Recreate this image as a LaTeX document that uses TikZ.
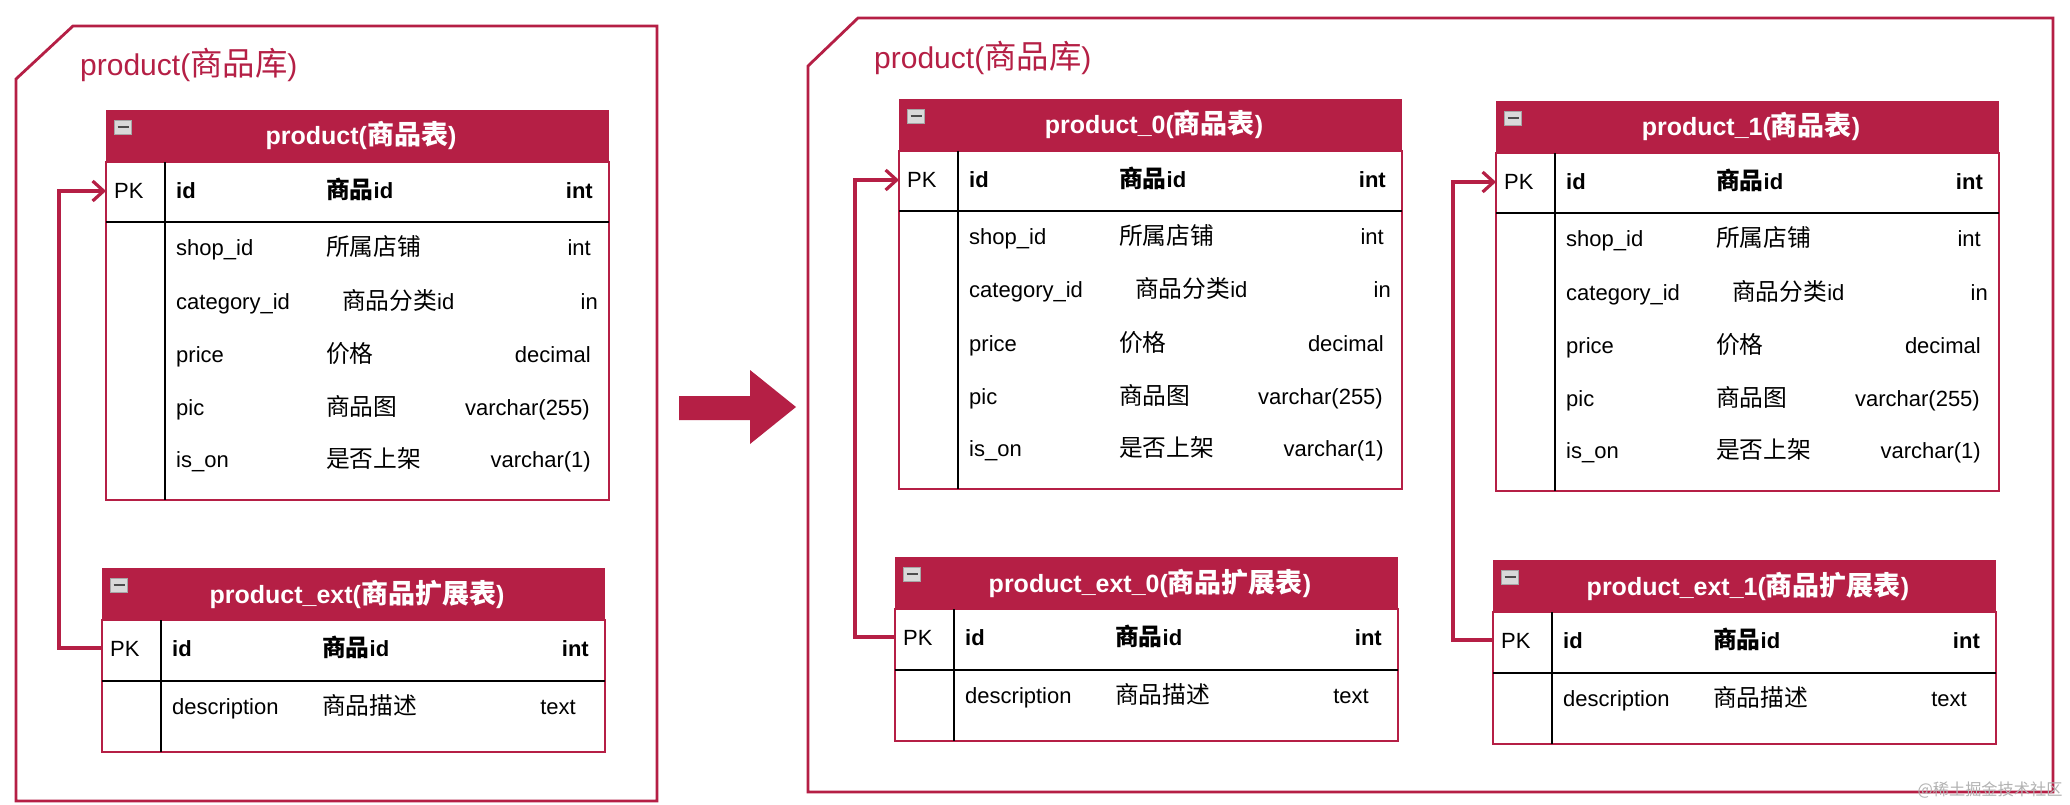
\documentclass[tikz,border=0pt]{standalone}
\usepackage{fontspec}
\setmainfont{Liberation Sans}
\newfontfamily\cjk[Scale=1.08]{Noto Sans CJK SC}
\newcommand\zh[1]{{\cjk #1}}
\definecolor{crim}{HTML}{B51F45}
\usetikzlibrary{arrows.meta}
\tikzset{
 frame/.style={draw=crim,line width=2.8pt},
 hdr/.style={fill=crim},
 tb/.style={draw=crim,line width=2.2pt},
 dv/.style={draw=black,line width=2.2pt},
 htxt/.style={text=white,anchor=base,inner sep=0pt,font=\fontsize{25}{27}\selectfont\bfseries},
 cell/.style={anchor=base west,inner sep=0pt,font=\fontsize{22}{24}\selectfont},
 cellb/.style={cell,font=\fontsize{22}{24}\selectfont\bfseries},
 typ/.style={anchor=base east,inner sep=0pt,font=\fontsize{22}{24}\selectfont},
 typb/.style={typ,font=\fontsize{22}{24}\selectfont\bfseries},
 ico/.style={draw=gray!70,fill=gray!30,minimum width=17pt,minimum height=14pt,inner sep=0pt,
   path picture={\draw[black!70,line width=1.6pt] ([xshift=3pt]path picture bounding box.west)--([xshift=-3pt]path picture bounding box.east);}},
 conn/.style={draw=crim,line width=3.2pt,-{Straight Barb[length=11pt,width=20pt,line width=3.2pt]}},
 ttl/.style={text=crim,font=\fontsize{30}{32}\selectfont,anchor=base west,inner sep=0pt},
}
% #1 name, #2 x, #3 y, #4 title
\newcommand{\ptbl}[4]{%
\begin{scope}[shift={(#2,#3)}]
\fill[hdr] (0,0) rectangle (503,52);
\node[htxt] (#1-t) at (255,35) {#4};
\node[ico] (#1-i) at (17,17) {};
\draw[tb] (0,52) rectangle (503,390);
\draw[dv] (0,112) -- (503,112);
\draw[dv] (59,52) -- (59,390);
\coordinate (#1-w) at (0,81);
\node[cell] (#1-pk) at (8,89) {PK};
\node[cellb] (#1-a1) at (70,89) {id};
\node[cellb] (#1-b1) at (220,89) {\zh{商品}id};
\node[typb] (#1-c1) at (487,89) {int};
\node[cell] (#1-a2) at (70,146) {shop\_id};
\node[cell] (#1-b2) at (220,146) {\zh{所属店铺}};
\node[typ] (#1-c2) at (485,146) {int};
\node[cell] (#1-a3) at (70,199) {category\_id};
\node[cell] (#1-b3) at (236,199) {\zh{商品分类}id};
\node[typ] (#1-c3) at (492,199) {in};
\node[cell] (#1-a4) at (70,252) {price};
\node[cell] (#1-b4) at (220,252) {\zh{价格}};
\node[typ] (#1-c4) at (485,252) {decimal};
\node[cell] (#1-a5) at (70,305) {pic};
\node[cell] (#1-b5) at (220,305) {\zh{商品图}};
\node[typ] (#1-c5) at (484,305) {varchar(255)};
\node[cell] (#1-a6) at (70,357) {is\_on};
\node[cell] (#1-b6) at (220,357) {\zh{是否上架}};
\node[typ] (#1-c6) at (485,357) {varchar(1)};
\end{scope}}
\newcommand{\etbl}[4]{%
\begin{scope}[shift={(#2,#3)}]
\fill[hdr] (0,0) rectangle (503,52);
\node[htxt] (#1-t) at (255,35) {#4};
\node[ico] (#1-i) at (17,17) {};
\draw[tb] (0,52) rectangle (503,184);
\draw[dv] (0,113) -- (503,113);
\draw[dv] (59,52) -- (59,184);
\coordinate (#1-w) at (0,80);
\node[cell] (#1-pk) at (8,88) {PK};
\node[cellb] (#1-a1) at (70,88) {id};
\node[cellb] (#1-b1) at (220,88) {\zh{商品}id};
\node[typb] (#1-c1) at (487,88) {int};
\node[cell] (#1-a2) at (70,146) {description};
\node[cell] (#1-b2) at (220,146) {\zh{商品描述}};
\node[typ] (#1-c2) at (474,146) {text};
\end{scope}}
\begin{document}
\begin{tikzpicture}[x=1pt,y=-1pt]
\useasboundingbox[fill=white] (0,0) rectangle (2070,805);
% left frame
\draw[frame] (73,26) -- (657,26) -- (657,801) -- (16,801) -- (16,79) -- cycle;
\node[ttl] (t1) at (80,76) {product(\zh{商品库})};
\ptbl{p}{106}{110}{product(\zh{商品表})}
\etbl{e}{102}{568}{product\_ext(\zh{商品扩展表})}
\draw[conn] (e-w) -- ++(-43,0) |- (p-w);
% big arrow
\fill[crim] (679,396) -- (750,396) -- (750,370) -- (796,407) -- (750,444) -- (750,420) -- (679,420) -- cycle;
% right frame
\draw[frame] (858,18) -- (2053,18) -- (2053,792) -- (808,792) -- (808,66) -- cycle;
\node[ttl] (t2) at (874,69) {product(\zh{商品库})};
\ptbl{p0}{899}{99}{product\_0(\zh{商品表})}
\ptbl{p1}{1496}{101}{product\_1(\zh{商品表})}
\etbl{e0}{895}{557}{product\_ext\_0(\zh{商品扩展表})}
\etbl{e1}{1493}{560}{product\_ext\_1(\zh{商品扩展表})}
\draw[conn] (e0-w) -- ++(-40,0) |- (p0-w);
\draw[conn] (e1-w) -- ++(-40,0) |- (p1-w);
\node[anchor=east,text=gray!60,font=\cjk\fontsize{15}{16}\selectfont] (wm) at (2066,790) {@稀土掘金技术社区};
\end{tikzpicture}
\end{document}
